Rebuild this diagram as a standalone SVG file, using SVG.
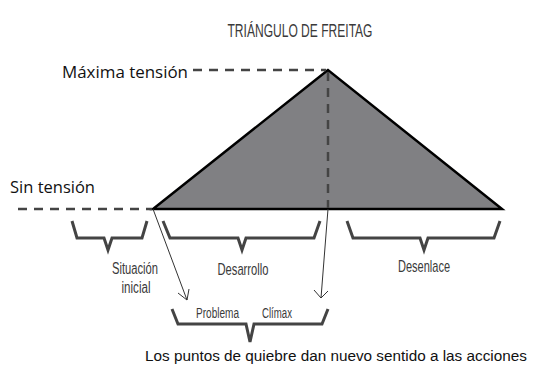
<svg xmlns="http://www.w3.org/2000/svg" width="544" height="371" viewBox="0 0 544 371">
<defs>
<style>
.cond{font-family:"Liberation Sans Narrow","Liberation Sans",Arial,sans-serif;fill:#3a3a3a;}
.lab{font-family:"Open Sans","Liberation Sans",Arial,sans-serif;fill:#111;}
.dash{stroke:#444;stroke-width:2.5;stroke-dasharray:9,7;fill:none;}
.br{stroke:#444;stroke-width:3;fill:none;stroke-linejoin:miter;}
.arr{stroke:#333;stroke-width:1;fill:none;}
</style>
</defs>
<rect width="544" height="371" fill="#fff"/>
<text class="cond" x="300" y="37" font-size="19" text-anchor="middle" textLength="145" lengthAdjust="spacingAndGlyphs">TRIÁNGULO DE FREITAG</text>
<g id="triangle">
<polygon points="328,70 153,209 502,209" fill="#808083" stroke="#000" stroke-width="2.5" stroke-linejoin="miter"/>
</g>
<g id="levels">
<text class="lab" x="62" y="78" font-size="17" textLength="126" lengthAdjust="spacingAndGlyphs">Máxima tensión</text>
<line class="dash" x1="193" y1="70" x2="326" y2="70"/>
<text class="lab" x="10" y="193" font-size="16" textLength="85" lengthAdjust="spacingAndGlyphs">Sin tensión</text>
<line class="dash" x1="18" y1="209" x2="152" y2="209"/>
<line class="dash" x1="328" y1="72" x2="328" y2="208"/>
</g>
<g id="situacion">
<path class="br" d="M72,221 L77,238 L104,238 L108,250 L112,238 L142,238 L147,221"/>
<text class="cond" x="135" y="274" font-size="16" text-anchor="middle" textLength="46" lengthAdjust="spacingAndGlyphs">Situación</text>
<text class="cond" x="136" y="293" font-size="16" text-anchor="middle" textLength="29" lengthAdjust="spacingAndGlyphs">inicial</text>
</g>
<g id="desarrollo">
<path class="br" d="M163,221 L170,238 L238,238 L242,250 L246,238 L314,238 L320,221"/>
<text class="cond" x="243" y="275" font-size="17" text-anchor="middle" textLength="51" lengthAdjust="spacingAndGlyphs">Desarrollo</text>
</g>
<g id="desenlace">
<path class="br" d="M347,221 L353,238 L420,238 L424,250 L428,238 L494,238 L500,221"/>
<text class="cond" x="424" y="272" font-size="17" text-anchor="middle" textLength="52" lengthAdjust="spacingAndGlyphs">Desenlace</text>
</g>
<g id="puntos">
<path class="br" d="M172,309 L178,324 L246,324 L250,342 L254,324 L322,324 L328,309"/>
<text class="cond" x="196" y="318" font-size="14" textLength="43" lengthAdjust="spacingAndGlyphs">Problema</text>
<text class="cond" x="262" y="318" font-size="14" textLength="30" lengthAdjust="spacingAndGlyphs">Clímax</text>
<text x="145" y="361" font-size="15.3" font-family="Liberation Sans, Arial, sans-serif" fill="#111">Los puntos de quiebre dan nuevo sentido a las acciones</text>
</g>
<g id="connectors">
<line class="arr" x1="153" y1="209" x2="187" y2="300"/>
<path class="arr" d="M178,293 L187,300 L189,289"/>
<line class="arr" x1="328" y1="209" x2="321" y2="298"/>
<path class="arr" d="M314,290 L321,298 L328,291"/>
</g>
</svg>
